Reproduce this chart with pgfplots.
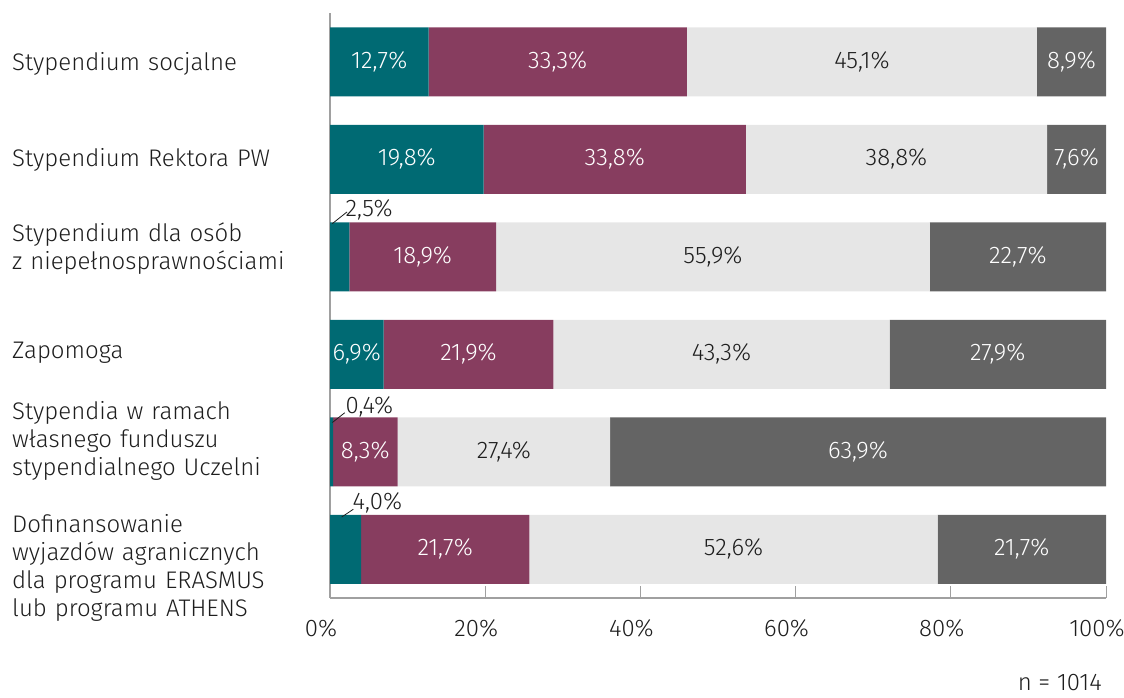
\documentclass[border=0pt]{standalone}
\usepackage{pgfplots}
\usepackage{pgfplotstable}
\pgfplotsset{compat=1.18}
\usepackage{fontspec}
\setmainfont{Fira Sans}[UprightFont={* Light}]
\definecolor{cA}{HTML}{006A73}
\definecolor{cB}{HTML}{873D5F}
\definecolor{cC}{HTML}{E6E6E6}
\definecolor{cD}{HTML}{646464}
\definecolor{txt}{HTML}{1E1E1E}
\definecolor{axc}{HTML}{A0A0A0}
\newcommand{\fsz}{\fontsize{24}{28}\selectfont}
\pgfplotsset{/pgf/number format/assume math mode=true}
\pgfplotstableread{
y a b c d
0 12.7 33.3 45.1 8.9
1 19.8 33.8 38.8 7.6
2 2.5 18.9 55.9 22.7
3 6.9 21.9 43.3 27.9
4 0.4 8.3 27.4 63.9
5 4.0 21.7 52.6 21.7
}\data
\pgfplotsset{
  common/.style={
    scale only axis, width=776pt, height=585pt,
    xmin=0, xmax=100, ymin=-0.5, ymax=5.5, y dir=reverse,
  },
  lbl/.style={draw=none, mark=none, point meta=explicit,
    nodes near coords={\pgfmathprintnumber[fixed,fixed zerofill,precision=1,use comma]{\pgfplotspointmeta}\%},
    every node near coord/.style={anchor=center, font=\fsz, text=#1}},
}
\begin{document}
\begin{tikzpicture}[font=\fsz]
\useasboundingbox (-330pt,-99pt) rectangle (794pt,598pt);
\begin{axis}[common,
  xbar stacked, bar width=69pt,
  axis x line*=bottom, axis y line*=left,
  axis line style={draw=axc, line width=1.2pt},
  xtick={0,20,...,100},
  xticklabel={\pgfmathprintnumber{\tick}\%},
  xticklabel style={font=\fsz, text=txt, yshift=-18pt, xshift=-9pt},
  tick align=inside, major tick length=12pt,
  xtick style={draw=axc, line width=1pt},
  ytick=\empty,
  clip=false,
]
\addplot[fill=cA, draw=none] table[x=a, y=y] {\data};
\addplot[fill=cB, draw=none] table[x=b, y=y] {\data};
\addplot[fill=cC, draw=none] table[x=c, y=y] {\data};
\addplot[fill=cD, draw=none] table[x=d, y=y] {\data};
\end{axis}
\begin{axis}[common, hide axis, clip=false]
\addplot[lbl=white, restrict x to domain=3:100] table[x expr=\thisrow{a}/2, y=y, meta=a] {\data};
\addplot[lbl=white] table[x expr=\thisrow{a}+\thisrow{b}/2, y=y, meta=b] {\data};
\addplot[lbl=txt] table[x expr=\thisrow{a}+\thisrow{b}+\thisrow{c}/2, y=y, meta=c] {\data};
\addplot[lbl=white] table[x expr=\thisrow{a}+\thisrow{b}+\thisrow{c}+\thisrow{d}/2, y=y, meta=d] {\data};
\draw[txt, line width=0.8pt] (axis cs:0.3,1.66) -- (axis cs:2.2,1.54);
\node[anchor=west, text=txt, inner sep=0pt] at (axis cs:2.0,1.52) {2,5\%};
\draw[txt, line width=0.8pt] (axis cs:0.3,3.70) -- (axis cs:1.9,3.60);
\node[anchor=west, text=txt, inner sep=0pt] at (axis cs:2.0,3.54) {0,4\%};
\draw[txt, line width=0.8pt] (axis cs:1.5,4.67) -- (axis cs:3.0,4.59);
\node[anchor=west, text=txt, inner sep=0pt] at (axis cs:2.9,4.52) {4,0\%};
\end{axis}
\node[anchor=base east, inner sep=0pt, text=txt, font=\fsz] at (772pt,-92pt) {n = 1014};
\begin{scope}[every node/.style={anchor=base west, inner sep=0pt, text width=315pt, align=left, text=txt, font=\fsz}]
\node at (-318pt,527pt) {Stypendium socjalne};
\node at (-318pt,431pt) {Stypendium Rektora PW};
\node at (-318pt,356pt) {Stypendium dla osób\\z niepełnosprawnościami};
\node at (-318pt,240pt) {Zapomoga};
\node at (-318pt,179pt) {Stypendia w ramach\\własnego funduszu\\stypendialnego Uczelni};
\node at (-318pt,66pt) {Dofinansowanie\\wyjazdów agranicznych\\dla programu ERASMUS\\lub programu ATHENS};
\end{scope}
\end{tikzpicture}
\end{document}
